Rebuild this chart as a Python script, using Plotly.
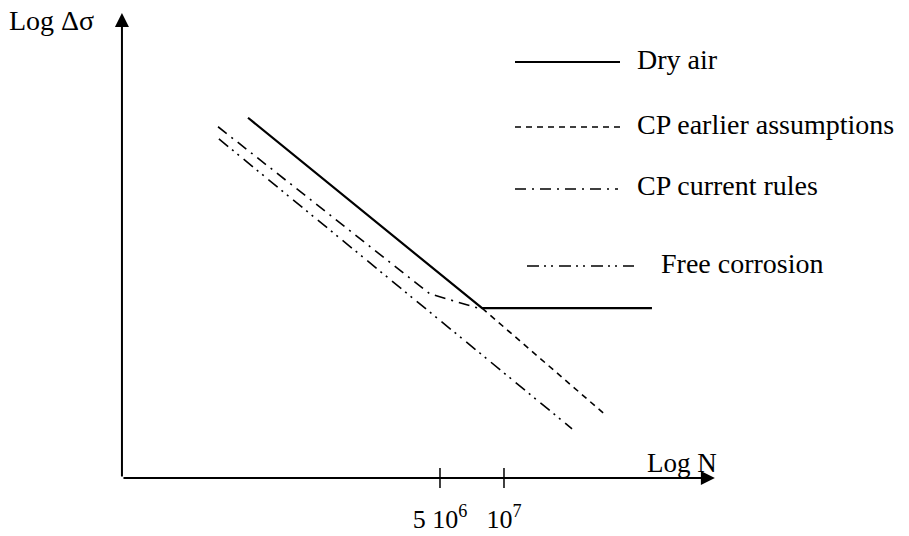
import math
import plotly.graph_objects as go

# Schematic S-N curves: x = log10(N), y = log10(stress range)
dry_air_logn = [5.796, 6.897, 7.696]
dry_air_logs = [1.681, 1.321, 1.321]

cp_earlier_logn = [6.897, 7.484]
cp_earlier_logs = [1.321, 1.117]

cp_current_logn = [5.655, 6.652, 6.897]
cp_current_logs = [1.664, 1.348, 1.319]

free_corr_logn = [5.659, 7.320]
free_corr_logs = [1.641, 1.093]

series_names = ["Dry air", "CP earlier assumptions", "CP current rules", "Free corrosion"]
tick_values = [math.log10(5e6), 7.0]
tick_labels = ["5 10<sup>6</sup>", "10<sup>7</sup>"]
x_title = "Log N"
y_title = "Log Δσ"

# axis extents (log N origin / end, log stress origin / end)
origin_logn, end_logn = 5.203, 7.992
origin_logs, end_logs = 1.0, 1.879

W, H = 909, 536
BOTTOM = 58
PLOT_H = H - BOTTOM
FONT = "Liberation Serif, Times New Roman, serif"
FSIZE = 28

styles = [
    dict(width=2.2, dash="solid"),
    dict(width=1.6, dash="6px,5px"),
    dict(width=1.6, dash="11px,6px,2px,6px"),
    dict(width=1.6, dash="12px,5px,2px,5px,2px,6px"),
]
curves = [
    (dry_air_logn, dry_air_logs),
    (cp_earlier_logn, cp_earlier_logs),
    (cp_current_logn, cp_current_logs),
    (free_corr_logn, free_corr_logs),
]

fig = go.Figure()
for name, (xs, ys), st in zip(series_names, curves, styles):
    fig.add_trace(go.Scatter(
        x=xs, y=ys, mode="lines", name=name, showlegend=False,
        line=dict(color="black", width=st["width"], dash=st["dash"]),
    ))


def px_x(px):
    return px / W


def px_y(py):
    return (PLOT_H - py) / PLOT_H


shapes = []
annotations = []

# hand-drawn style legend: sample line + label
legend_rows = [
    dict(y=62, x0=515, x1=620, tx=635),
    dict(y=127, x0=515, x1=622, tx=635),
    dict(y=189, x0=515, x1=618, tx=635),
    dict(y=266, x0=527, x1=634, tx=659),
]
for name, st, row in zip(series_names, styles, legend_rows):
    shapes.append(dict(
        type="line", xref="paper", yref="paper",
        x0=px_x(row["x0"]), x1=px_x(row["x1"]),
        y0=px_y(row["y"]), y1=px_y(row["y"]),
        line=dict(color="black", width=st["width"], dash=st["dash"]),
    ))
    annotations.append(dict(
        xref="paper", yref="paper", x=px_x(row["tx"]), y=px_y(row["y"] - 3),
        text=name, showarrow=False, xanchor="left", yanchor="middle",
        font=dict(family=FONT, size=FSIZE, color="black"),
    ))

# tick marks crossing the horizontal axis
for tv in tick_values:
    shapes.append(dict(
        type="line", xref="x", yref="paper", x0=tv, x1=tv,
        y0=-10 / PLOT_H, y1=10 / PLOT_H,
        line=dict(color="black", width=1.5),
    ))

# axes drawn as arrows from the origin
annotations.append(dict(
    x=origin_logn, y=end_logs, ax=origin_logn, ay=origin_logs,
    xref="x", yref="y", axref="x", ayref="y", text="", showarrow=True,
    arrowhead=2, arrowsize=1.4, arrowwidth=2, arrowcolor="black",
))
annotations.append(dict(
    x=end_logn, y=origin_logs, ax=origin_logn, ay=origin_logs,
    xref="x", yref="y", axref="x", ayref="y", text="", showarrow=True,
    arrowhead=2, arrowsize=1.4, arrowwidth=2, arrowcolor="black",
))

# axis titles
annotations.append(dict(
    xref="paper", yref="paper", x=px_x(7), y=px_y(20), text=y_title,
    showarrow=False, xanchor="left", yanchor="middle",
    font=dict(family=FONT, size=FSIZE, color="black"),
))
annotations.append(dict(
    xref="paper", yref="paper", x=px_x(645), y=px_y(463), text=x_title,
    showarrow=False, xanchor="left", yanchor="middle",
    font=dict(family=FONT, size=FSIZE - 1, color="black"),
))

fig.update_layout(
    width=W, height=H,
    margin=dict(l=0, r=0, t=0, b=BOTTOM),
    paper_bgcolor="white", plot_bgcolor="white",
    font=dict(family=FONT, size=FSIZE, color="black"),
    xaxis=dict(
        range=[4.6294, 8.905], showgrid=False, zeroline=False, showline=False,
        tickvals=tick_values, ticktext=tick_labels, ticks="",
        ticklabelstandoff=23, automargin=False, fixedrange=True,
        tickfont=dict(family=FONT, size=FSIZE - 2, color="black"),
    ),
    yaxis=dict(
        range=[1.0, 1.9036], showgrid=False, zeroline=False, showline=False,
        showticklabels=False, ticks="", automargin=False, fixedrange=True,
    ),
    shapes=shapes,
    annotations=annotations,
    showlegend=False,
)

fig.write_html("out.html")
